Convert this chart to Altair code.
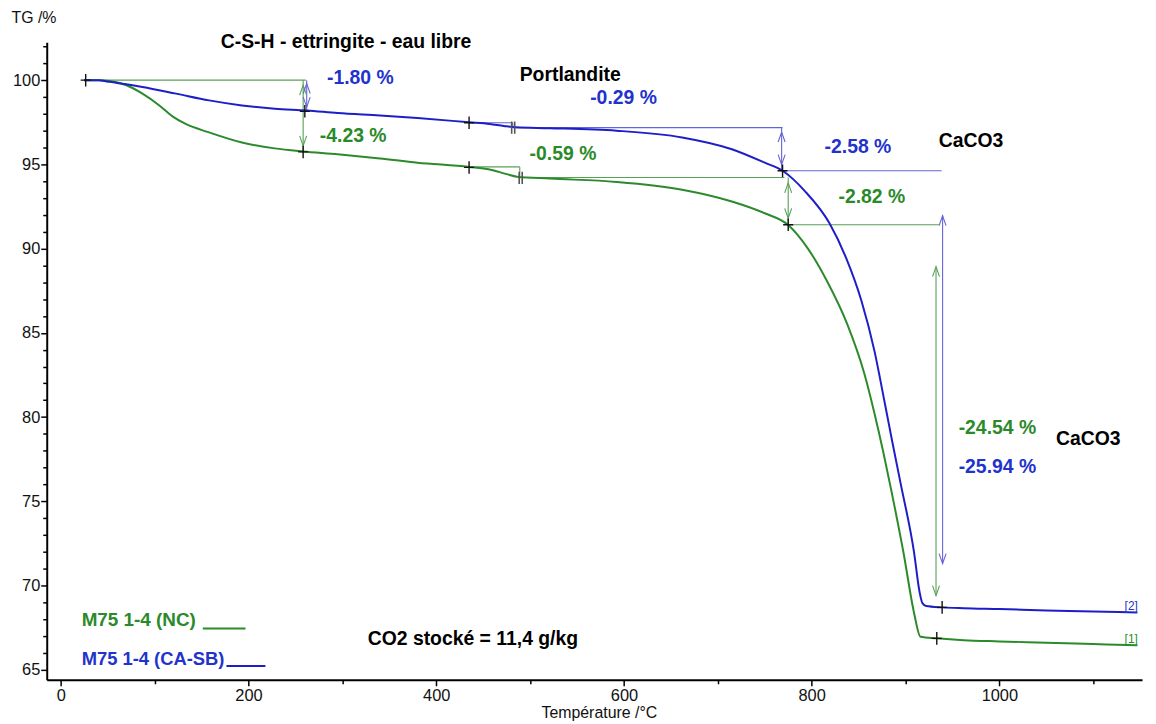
import altair as alt
import pandas as pd

FONT = "Liberation Sans"
GREEN = "#2b8a2b"
BLUE = "#1e1ec8"
GREEN_T = "#2a8a2a"
BLUE_T = "#2233cc"
GREEN_L = "#56a056"
BLUE_L = "#6464d8"

# ---- TG curves (temperature degC, mass %) ----
green_T = [25, 40, 52, 70, 87, 105, 119, 133, 158, 193, 228, 258, 295, 340, 380, 435, 457, 475,
           486, 521, 592, 662, 715, 750, 775, 796, 817, 838, 856, 867, 876, 885, 898, 909, 916,
           933, 962, 1000, 1050, 1100, 1147]
green_TG = [100.0, 100.0, 99.95, 99.7, 99.2, 98.5, 97.85, 97.4, 96.9, 96.3, 95.95, 95.77, 95.6,
            95.35, 95.1, 94.85, 94.7, 94.42, 94.27, 94.16, 93.96, 93.5, 92.8, 92.1, 91.4, 90.0,
            88.0, 85.5, 82.6, 80.2, 78.0, 75.6, 71.9, 68.4, 66.95, 66.86, 66.75, 66.68, 66.6,
            66.52, 66.45]
blue_T = [25, 40, 52, 87, 123, 158, 193, 228, 262, 295, 340, 380, 435, 457, 472, 485, 521, 592,
          662, 715, 750, 769, 793, 819, 837, 853, 867, 878, 886, 895, 909, 915, 918, 922, 939, 962,
          1000, 1050, 1100, 1147]
blue_TG = [100.0, 100.0, 99.9, 99.6, 99.2, 98.8, 98.5, 98.3, 98.2, 98.05, 97.9, 97.75, 97.5, 97.4,
           97.28, 97.2, 97.15, 97.0, 96.6, 95.9, 95.1, 94.62, 93.4, 91.5, 89.4, 86.9, 83.9, 80.8,
           78.5, 76.0, 72.0, 69.6, 68.95, 68.78, 68.7, 68.65, 68.6, 68.52, 68.46, 68.4]

# ---- evaluation lines (series, x1, y1, x2, y2) ----
seg_series = ["g", "g", "b", "g", "g", "b", "b", "g", "g", "g", "b", "b", "b", "g", "b"]
seg_x1 = [26.5, 258.2, 262, 435, 489, 435, 481.5, 489, 775, 775, 481.5, 768, 767, 932.5, 939.5]
seg_y1 = [100.0, 100.0, 100.0, 94.85, 94.85, 97.47, 97.47, 94.22, 94.22, 91.42, 97.18, 97.18, 94.62, 88.93, 91.95]
seg_x2 = [261, 258.2, 262, 489, 489, 481.5, 481.5, 771, 775, 935.5, 769, 768, 938.5, 932.5, 939.5]
seg_y2 = [100.0, 95.77, 98.2, 94.85, 94.22, 97.47, 97.18, 94.22, 91.42, 91.42, 97.18, 94.62, 94.62, 69.4, 71.3]

# ---- arrow heads (series, x, y, direction) ----
arr_series = ["g", "g", "b", "b", "g", "g", "b", "b", "g", "g", "b", "b"]
arr_x = [258.2, 258.2, 262, 262, 775, 775, 768, 768, 932.5, 932.5, 939.5, 939.5]
arr_y = [99.7, 96.1, 99.8, 98.4, 93.9, 91.8, 96.92, 94.99, 88.93, 69.4, 91.95, 71.3]
arr_dir = ["up", "down", "up", "down", "up", "down", "up", "down", "up", "down", "up", "down"]

# ---- evaluation markers ----
cross_x = [26.5, 258.2, 260, 435, 435, 769, 775, 933.3, 939]
cross_y = [100.0, 95.74, 98.15, 94.82, 97.47, 94.62, 91.42, 66.86, 68.7]
bar_x = [490, 482]
bar_y = [94.2, 97.18]

# ---- texts ----
txt = ["C-S-H - ettringite - eau libre", "-1.80 %", "-4.23 %", "Portlandite", "-0.29 %",
       "-0.59 %", "-2.58 %", "CaCO3", "-2.82 %", "-24.54 %", "CaCO3", "-25.94 %",
       "M75 1-4 (NC)", "M75 1-4 (CA-SB)", "CO2 stocké = 11,4 g/kg"]
txt_x = [170.4, 283.6, 276, 488.9, 564, 499.5, 813.8, 935.4, 828.6, 956.6, 1060.3, 956.6,
         22.2, 22.2, 327]
txt_y = [101.89, 99.76, 96.33, 99.94, 98.58, 95.27, 95.68, 96.04, 92.72, 79.0, 78.34, 76.69,
         67.57, 65.3, 66.45]
txt_c = ["k", "b", "g", "k", "b", "g", "b", "k", "g", "g", "k", "b", "g", "b", "k"]
txt_fs = [19.5, 19.5, 19.5, 19.5, 19.5, 19.5, 19.5, 19.5, 19.5, 19.5, 19.5, 19.5, 19, 18.5, 19.5]

# legend sample lines (series, x1, x2, y)
leg_series = ["g", "b"]
leg_x1 = [151.3, 176.5]
leg_x2 = [196.8, 218.0]
leg_y = [67.45, 65.22]

curve_tag = ["[1]", "[2]"]
tag_x = [1147.5, 1147.5]
tag_y = [66.57, 68.52]
tag_c = ["g", "b"]

x_major = [0, 200, 400, 600, 800, 1000]
x_minor = [100, 300, 500, 700, 900, 1100]
y_major = [65, 70, 75, 80, 85, 90, 95, 100]
y_minor = [v for v in range(65, 103) if v % 5 != 0]

XDOM = [-15, 1152]
YDOM = [64.4, 102.25]
xs = alt.Scale(domain=XDOM, nice=False, zero=False)
ys = alt.Scale(domain=YDOM, nice=False, zero=False)

curves = pd.DataFrame({
    "T": green_T + blue_T,
    "TG": green_TG + blue_TG,
    "s": ["g"] * len(green_T) + ["b"] * len(blue_T),
})
segs = pd.DataFrame({"s": seg_series, "x1": seg_x1, "y1": seg_y1, "x2": seg_x2, "y2": seg_y2})
arrows = pd.DataFrame({"s": arr_series, "x": arr_x, "y": arr_y, "d": arr_dir})
crosses = pd.DataFrame({"x": cross_x, "y": cross_y})
bars = pd.DataFrame({"x": bar_x, "y": bar_y})
texts = pd.DataFrame({"t": txt, "x": txt_x, "y": txt_y, "c": txt_c, "fs": txt_fs})
tags = pd.DataFrame({"t": curve_tag, "x": tag_x, "y": tag_y, "c": tag_c})
legs = pd.DataFrame({"s": leg_series, "x1": leg_x1, "x2": leg_x2, "y": leg_y})

line_col = alt.Color("s:N", scale=alt.Scale(domain=["g", "b"], range=[GREEN, BLUE]), legend=None)
ann_col = alt.Color("s:N", scale=alt.Scale(domain=["g", "b"], range=[GREEN_L, BLUE_L]), legend=None)
txt_col = alt.Color("c:N", scale=alt.Scale(domain=["g", "b", "k"], range=[GREEN_T, BLUE_T, "#000000"]), legend=None)

seg_layer = alt.Chart(segs).mark_rule(strokeWidth=1.1).encode(
    x=alt.X("x1:Q", scale=xs, axis=None), y=alt.Y("y1:Q", scale=ys, axis=None),
    x2="x2:Q", y2="y2:Q", color=ann_col)

curve_layer = alt.Chart(curves).mark_line(strokeWidth=2, interpolate="monotone").encode(
    x=alt.X("T:Q", scale=xs, axis=alt.Axis(
        values=x_major, format="d", title="Température /°C", grid=False, tickSize=6, labelPadding=2,
        labelFontSize=16.5, labelFont=FONT, labelColor="#111", domainColor="#000", domainWidth=2,
        tickColor="#000", tickWidth=1.5, titleFont=FONT, titleFontSize=16, titleFontWeight="normal",
        titleColor="#111", titleX=556, titleY=38, titleAlign="center", titleBaseline="alphabetic",
        orient="bottom")),
    y=alt.Y("TG:Q", scale=ys, axis=alt.Axis(
        values=y_major, title="TG /%", grid=False, tickSize=6, labelPadding=1,
        labelFontSize=16.5, labelFont=FONT, labelColor="#111", domainColor="#000", domainWidth=2,
        tickColor="#000", tickWidth=1.5, titleFont=FONT, titleFontSize=16, titleFontWeight="normal",
        titleColor="#111", titleAngle=0, titleX=-36, titleY=-20, titleAlign="left",
        titleBaseline="alphabetic", orient="left")),
    color=line_col, detail="s:N", order="T:Q")

leg_layer = alt.Chart(legs).mark_rule(strokeWidth=2).encode(
    x=alt.X("x1:Q", scale=xs, axis=None), x2="x2:Q",
    y=alt.Y("y:Q", scale=ys, axis=None), color=line_col)

arrow_layer = alt.Chart(arrows).mark_point(filled=False, strokeWidth=1.1, opacity=1).encode(
    x=alt.X("x:Q", scale=xs, axis=alt.Axis(values=x_minor, labels=False, title=None, grid=False,
                                             domain=False, tickSize=4, tickColor="#000",
                                             tickWidth=1.5, orient="bottom")),
    y=alt.Y("y:Q", scale=ys, axis=alt.Axis(values=y_minor, labels=False, title=None, grid=False,
                                             domain=False, tickSize=4, tickColor="#000",
                                             tickWidth=1.5, orient="left")),
    shape=alt.Shape("d:N", scale=alt.Scale(domain=["up", "down"],
                                           range=["M-0.7,2L0,0L0.7,2", "M-0.7,-2L0,0L0.7,-2"]),
                    legend=None),
    color=ann_col, size=alt.value(100))

cross_layer = alt.Chart(crosses).mark_point(
    shape="M-0.8,0L0.8,0M0,-1L0,1", filled=False, strokeWidth=1.4, color="#111", size=160,
    opacity=1).encode(x=alt.X("x:Q", scale=xs, axis=None), y=alt.Y("y:Q", scale=ys, axis=None))

bar_layer = alt.Chart(bars).mark_point(
    shape="M-0.25,-1L-0.25,1M0.25,-1L0.25,1", filled=False, strokeWidth=1.6, color="#555",
    size=150, opacity=1).encode(x=alt.X("x:Q", scale=xs, axis=None), y=alt.Y("y:Q", scale=ys, axis=None))

text_layer = alt.Chart(texts).mark_text(
    font=FONT, fontWeight="bold", align="left", baseline="alphabetic").encode(
    x=alt.X("x:Q", scale=xs, axis=None), y=alt.Y("y:Q", scale=ys, axis=None),
    text="t:N", color=txt_col, size=alt.Size("fs:Q", scale=None, legend=None))

tag_layer = alt.Chart(tags).mark_text(
    font=FONT, fontSize=12, align="right", baseline="alphabetic").encode(
    x=alt.X("x:Q", scale=xs, axis=None), y=alt.Y("y:Q", scale=ys, axis=None),
    text="t:N", color=txt_col)

chart = alt.layer(
    seg_layer, curve_layer, leg_layer, arrow_layer, cross_layer, bar_layer, text_layer, tag_layer
).resolve_axis(x="independent", y="independent").resolve_scale(color="independent").properties(
    width=1103, height=642,
    autosize=alt.AutoSizeParams(type="none"),
    padding={"left": 39, "top": 32, "right": 6, "bottom": 42},
    background="white",
).configure_view(stroke=None)

chart.save("out.html", embed_options={"renderer": "svg", "actions": False})
